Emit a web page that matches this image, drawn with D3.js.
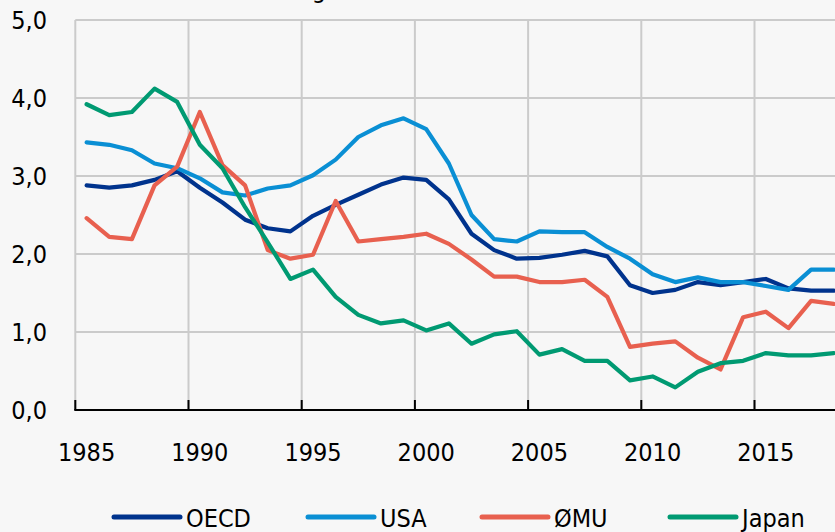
<!DOCTYPE html>
<html>
<head>
<meta charset="utf-8">
<script src="https://cdn.jsdelivr.net/npm/d3@7"></script>
<style>
  html, body { margin: 0; padding: 0; background: #f7f7f7; }
  svg { display: block; }
  text { font-family: "DejaVu Sans Condensed", "DejaVu Sans", sans-serif; fill: #000; }
</style>
</head>
<body>
<svg id="chart" width="835" height="532"></svg>
<script>
const years = [1985,1986,1987,1988,1989,1990,1991,1992,1993,1994,1995,1996,1997,1998,1999,2000,2001,2002,2003,2004,2005,2006,2007,2008,2009,2010,2011,2012,2013,2014,2015,2016,2017,2018];
const oecd  = [2.88,2.85,2.88,2.95,3.06,2.85,2.66,2.44,2.33,2.29,2.49,2.63,2.76,2.89,2.98,2.95,2.70,2.26,2.05,1.94,1.95,1.99,2.04,1.97,1.60,1.50,1.54,1.64,1.60,1.64,1.68,1.56,1.53,1.53];
const usa   = [3.43,3.40,3.33,3.16,3.10,2.97,2.79,2.75,2.84,2.88,3.01,3.21,3.50,3.65,3.74,3.60,3.16,2.50,2.19,2.16,2.29,2.28,2.28,2.09,1.94,1.74,1.64,1.70,1.64,1.64,1.59,1.54,1.80,1.80];
const emu   = [2.46,2.22,2.19,2.88,3.12,3.82,3.14,2.88,2.05,1.94,1.99,2.68,2.16,2.19,2.22,2.26,2.13,1.93,1.71,1.71,1.64,1.64,1.67,1.45,0.81,0.85,0.88,0.67,0.52,1.19,1.26,1.05,1.40,1.36];
const japan = [3.92,3.78,3.82,4.12,3.95,3.40,3.10,2.60,2.15,1.68,1.80,1.45,1.22,1.11,1.15,1.02,1.11,0.85,0.97,1.01,0.71,0.78,0.63,0.63,0.38,0.43,0.29,0.49,0.60,0.63,0.73,0.70,0.70,0.73];
const seriesNames = ["OECD","USA","ØMU","Japan"];
const seriesColors = ["#00338d","#0a8fd4","#e8604f","#009a72"];
const yTicks = [0,1,2,3,4,5];
const xLabels = [1985,1990,1995,2000,2005,2010,2015];
const gridYears = [1984.5,1989.5,1994.5,1999.5,2004.5,2009.5,2014.5];

const seriesData = [oecd, usa, emu, japan];

const svg = d3.select("#chart");
const plotLeft = 75.3, plotTop = 20, plotBottom = 410;
const step = 22.64;
const x = d3.scaleLinear().domain([1984.5, 2018.5]).range([plotLeft, plotLeft + 34 * step]);
const y = d3.scaleLinear().domain([0, 5]).range([plotBottom, plotTop]);

// clipped title (only descender visible)
svg.append("text").attr("x", 326).attr("y", -2).attr("text-anchor", "end")
  .attr("font-size", 25).text("Utvikling");

// gridlines
const grid = svg.append("g");
grid.selectAll("line.h").data(yTicks.filter(d => d > 0)).join("line")
  .attr("x1", plotLeft).attr("x2", 835).attr("y1", d => y(d)).attr("y2", d => y(d))
  .attr("stroke", "#cbcbcb").attr("stroke-width", 2);
grid.selectAll("line.v").data(gridYears).join("line")
  .attr("x1", d => x(d)).attr("x2", d => x(d)).attr("y1", plotTop).attr("y2", plotBottom)
  .attr("stroke", "#cbcbcb").attr("stroke-width", 2);

// y labels
svg.append("g").selectAll("text").data(yTicks).join("text")
  .attr("x", 47).attr("y", d => y(d) + 9)
  .attr("text-anchor", "end").attr("font-size", 25)
  .text(d => d3.format(".1f")(d).replace(".", ","));

// lines
const line = d3.line().x((d, i) => x(years[i])).y(d => y(d));
svg.append("g").selectAll("path").data(seriesData).join("path")
  .attr("d", d => line(d)).attr("fill", "none")
  .attr("stroke", (d, i) => seriesColors[i]).attr("stroke-width", 4.2)
  .attr("stroke-linejoin", "round").attr("stroke-linecap", "round");

// x axis
const xAxis = svg.append("g");
xAxis.append("line").attr("x1", plotLeft - 1).attr("x2", 835).attr("y1", plotBottom).attr("y2", plotBottom)
  .attr("stroke", "#000").attr("stroke-width", 2);
xAxis.selectAll("line.t").data(gridYears).join("line")
  .attr("x1", d => x(d)).attr("x2", d => x(d)).attr("y1", plotBottom).attr("y2", plotBottom - 10)
  .attr("stroke", "#000").attr("stroke-width", 2);
xAxis.selectAll("text").data(xLabels).join("text")
  .attr("x", d => x(d)).attr("y", 461).attr("text-anchor", "middle").attr("font-size", 25)
  .text(d => d);

// legend
const legendX = [114, 308, 482, 670];
const lg = svg.append("g").selectAll("g").data(seriesNames).join("g")
  .attr("transform", (d, i) => `translate(${legendX[i]},517)`);
lg.append("line").attr("x1", 0).attr("x2", 66).attr("y1", 0).attr("y2", 0)
  .attr("stroke", (d, i) => seriesColors[i]).attr("stroke-width", 5).attr("stroke-linecap", "round");
lg.append("text").attr("x", 72).attr("y", 10).attr("font-size", 25).text(d => d);
</script>
</body>
</html>
